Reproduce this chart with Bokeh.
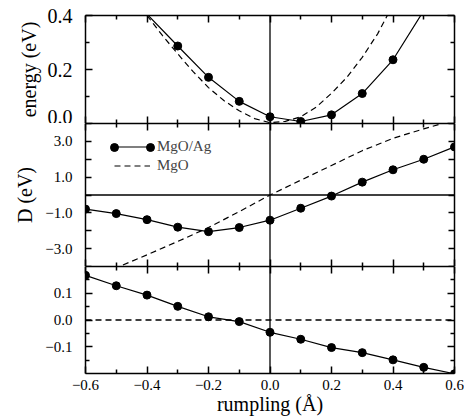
import math
from bokeh.plotting import figure
from bokeh.layouts import column
from bokeh.models import (Range1d, LinearAxis, FixedTicker, CustomJSTickFormatter,
                          Span, Legend, LegendItem, Label)
from bokeh.core.properties import value
from bokeh.embed import file_html
from bokeh.resources import INLINE

# ---------------- data ----------------
rumpling = [-0.6, -0.5, -0.4, -0.3, -0.2, -0.1, 0.0, 0.1, 0.2, 0.3, 0.4, 0.5, 0.6]

# top panel: energy (eV)
energy_x = [-0.4, -0.3, -0.2, -0.1, 0.0, 0.1, 0.2, 0.3, 0.4, 0.5]
energy_mgoag = [0.405, 0.287, 0.171, 0.082, 0.025, 0.0075, 0.032, 0.111, 0.236, 0.418]
energy_mgo_x = [-0.4, -0.35, -0.3, -0.25, -0.2, -0.15, -0.1, -0.05, 0.0,
                0.05, 0.1, 0.15, 0.2, 0.25, 0.3, 0.35, 0.4]
energy_mgo = [0.40, 0.326, 0.258, 0.192, 0.133, 0.085, 0.047, 0.018, 0.003,
              0.008, 0.025, 0.06, 0.112, 0.171, 0.245, 0.332, 0.44]

# middle panel: D (eV)
D_mgoag = [-0.79, -1.04, -1.38, -1.80, -2.05, -1.82, -1.41, -0.74, -0.06, 0.72, 1.41, 2.00, 2.69]
D_mgo = [-4.7, -4.07, -3.35, -2.6, -1.82, -0.93, 0.0, 0.83, 1.65, 2.48, 3.17, 3.70, 4.20]

# bottom panel: Q_sub
Q_sub = [0.167, 0.128, 0.093, 0.051, 0.012, -0.006, -0.046, -0.072, -0.103, -0.122, -0.149, -0.177, -0.201]

# ticks
x_ticks = [-0.6, -0.4, -0.2, 0.0, 0.2, 0.4, 0.6]
x_minor = [-0.5, -0.3, -0.1, 0.1, 0.3, 0.5]
e_ticks = [0.0, 0.2, 0.4]
e_minor = [0.1, 0.3]
d_ticks = [-3, -1, 1, 3]
d_minor = [-4, -2, 0, 2, 4]
q_ticks = [-0.1, 0.0, 0.1]
q_minor = [-0.15, -0.05, 0.05, 0.15]

FONT = "Liberation Serif"
FW = 369


def fmt():
    return CustomJSTickFormatter(
        code="const v = Math.abs(tick) < 1e-9 ? 0 : tick; return v.toFixed(1).replace('-', '\\u2212');")


def set_font(obj, attr, font):
    try:
        setattr(obj, attr, value(font))
    except Exception:
        setattr(obj, attr, font)


def make_axis(ticks, minor, labels=False, size="15px", tin=7, min_in=4, standoff=13):
    ax = LinearAxis(ticker=FixedTicker(ticks=ticks, minor_ticks=minor),
                    axis_line_width=1.5, axis_line_color="black",
                    major_tick_line_width=1.5, minor_tick_line_width=1.5,
                    major_tick_in=tin, major_tick_out=0,
                    minor_tick_in=min_in, minor_tick_out=0)
    if labels:
        ax.formatter = fmt()
        set_font(ax, "major_label_text_font", FONT)
        ax.major_label_text_font_size = size
        ax.major_label_text_color = "black"
        ax.major_label_standoff = standoff
    else:
        ax.major_label_text_font_size = "0px"
        ax.major_label_standoff = 0
    ax.axis_label_text_font = FONT
    ax.axis_label_text_font_style = "normal"
    ax.axis_label_text_font_size = "20px"
    ax.axis_label_text_color = "black"
    return ax


def make_fig(y_range, fh, top, bottom):
    p = figure(x_range=xr, y_range=y_range, frame_width=FW, frame_height=fh,
               min_border_left=85, min_border_right=10, min_border_top=top,
               min_border_bottom=bottom, x_axis_location=None, y_axis_location=None,
               output_backend="svg", toolbar_location=None)
    p.grid.visible = False
    p.outline_line_color = None
    p.background_fill_color = "white"
    p.border_fill_color = "white"
    p.add_layout(Span(location=0, dimension="height", line_color="black",
                      line_width=1.3, level="underlay"))
    return p


xr = Range1d(-0.6, 0.6)

# ---------- top panel ----------
p1 = make_fig(Range1d(0, 0.4), 108, 15, 0)
ax = make_axis(e_ticks, e_minor, labels=True, size="20px")
ax.axis_label = "energy (eV)"
ax.axis_label_standoff = 5
p1.add_layout(ax, "left")
p1.add_layout(make_axis(e_ticks, e_minor), "right")
p1.add_layout(make_axis(x_ticks, x_minor), "above")
p1.add_layout(make_axis(x_ticks, x_minor), "below")
p1.line(energy_mgo_x, energy_mgo, line_color="black", line_width=1.2, line_dash="6 4")
p1.line(energy_x, energy_mgoag, line_color="black", line_width=1.2)
vis_x = [x for x, e in zip(energy_x, energy_mgoag) if e <= 0.4]
vis_e = [e for e in energy_mgoag if e <= 0.4]
p1.scatter(vis_x, vis_e, size=8, color="black")

# ---------- middle panel ----------
p2 = make_fig(Range1d(-4, 4), 143, 0, 0)
ax = make_axis(d_ticks, d_minor, labels=True, size="15px", tin=6, min_in=6)
ax.axis_label = "D (eV)"
ax.axis_label_standoff = 6
p2.add_layout(ax, "left")
p2.add_layout(make_axis(d_ticks, d_minor, tin=6, min_in=6), "right")
p2.add_layout(make_axis(x_ticks, x_minor), "above")
p2.add_layout(make_axis(x_ticks, x_minor), "below")
p2.add_layout(Span(location=0, dimension="width", line_color="black",
                   line_width=1.3, level="underlay"))
# lower half of the top panel's "0.0" tick label, which spills over the panel boundary
p2.add_layout(Label(x=-13, y=143, x_units="screen", y_units="screen", text="0.0",
                    text_align="right", text_baseline="middle",
                    text_font=FONT, text_font_size="20px", text_color="black"))
r_mgo = p2.line(rumpling, D_mgo, line_color="black", line_width=1.2, line_dash="6 4")
r_l = p2.line(rumpling, D_mgoag, line_color="black", line_width=1.2)
r_s = p2.scatter(rumpling, D_mgoag, size=8, color="black")
legend = Legend(items=[LegendItem(label="MgO/Ag", renderers=[r_l]),
                       LegendItem(label="MgO", renderers=[r_mgo])],
                location=(29, 92), margin=0, padding=0, spacing=2,
                glyph_width=36, glyph_height=17, label_height=17, label_standoff=7,
                label_text_font=FONT, label_text_font_size="15px",
                label_text_baseline="middle",
                border_line_alpha=0, background_fill_alpha=0)
p2.add_layout(legend, "center")
# end markers of the MgO/Ag legend sample
for lx in (19, 55):
    p2.add_layout(Legend(items=[LegendItem(label=" ", renderers=[r_s])],
                         location=(lx, 109), margin=0, padding=0, spacing=0,
                         glyph_width=20, glyph_height=20, label_height=1, label_width=0,
                         label_standoff=0, label_text_font_size="1px",
                         label_text_alpha=0,
                         border_line_alpha=0, background_fill_alpha=0), "center")

# ---------- bottom panel ----------
p3 = make_fig(Range1d(-0.2, 0.2), 107, 0, 46)
p3.add_layout(make_axis(q_ticks, q_minor, labels=True, size="15px"), "left")
p3.add_layout(make_axis(q_ticks, q_minor), "right")
p3.add_layout(make_axis(x_ticks, x_minor), "above")
axb = make_axis(x_ticks, x_minor, labels=True, size="15px", standoff=6)
axb.axis_label = "rumpling (Å)"
axb.axis_label_standoff = 0
p3.add_layout(axb, "below")
p3.add_layout(Span(location=0, dimension="width", line_color="black",
                   line_width=1.3, line_dash="6 4", level="underlay"))
p3.line(rumpling, Q_sub, line_color="black", line_width=1.2)
p3.scatter(rumpling, Q_sub, size=8, color="black")
p3.add_layout(Label(x=-54, y=37, x_units="screen", y_units="screen", text="Q",
                    angle=math.pi / 2, text_align="center", text_baseline="alphabetic",
                    text_font=FONT, text_font_size="20px", text_color="black"))
p3.add_layout(Label(x=-48, y=54, x_units="screen", y_units="screen", text="sub",
                    angle=math.pi / 2, text_align="center", text_baseline="alphabetic",
                    text_font=FONT, text_font_size="11px", text_color="black"))

layout = column(p1, p2, p3, spacing=0)
open("out.html", "w").write(file_html(layout, INLINE))
